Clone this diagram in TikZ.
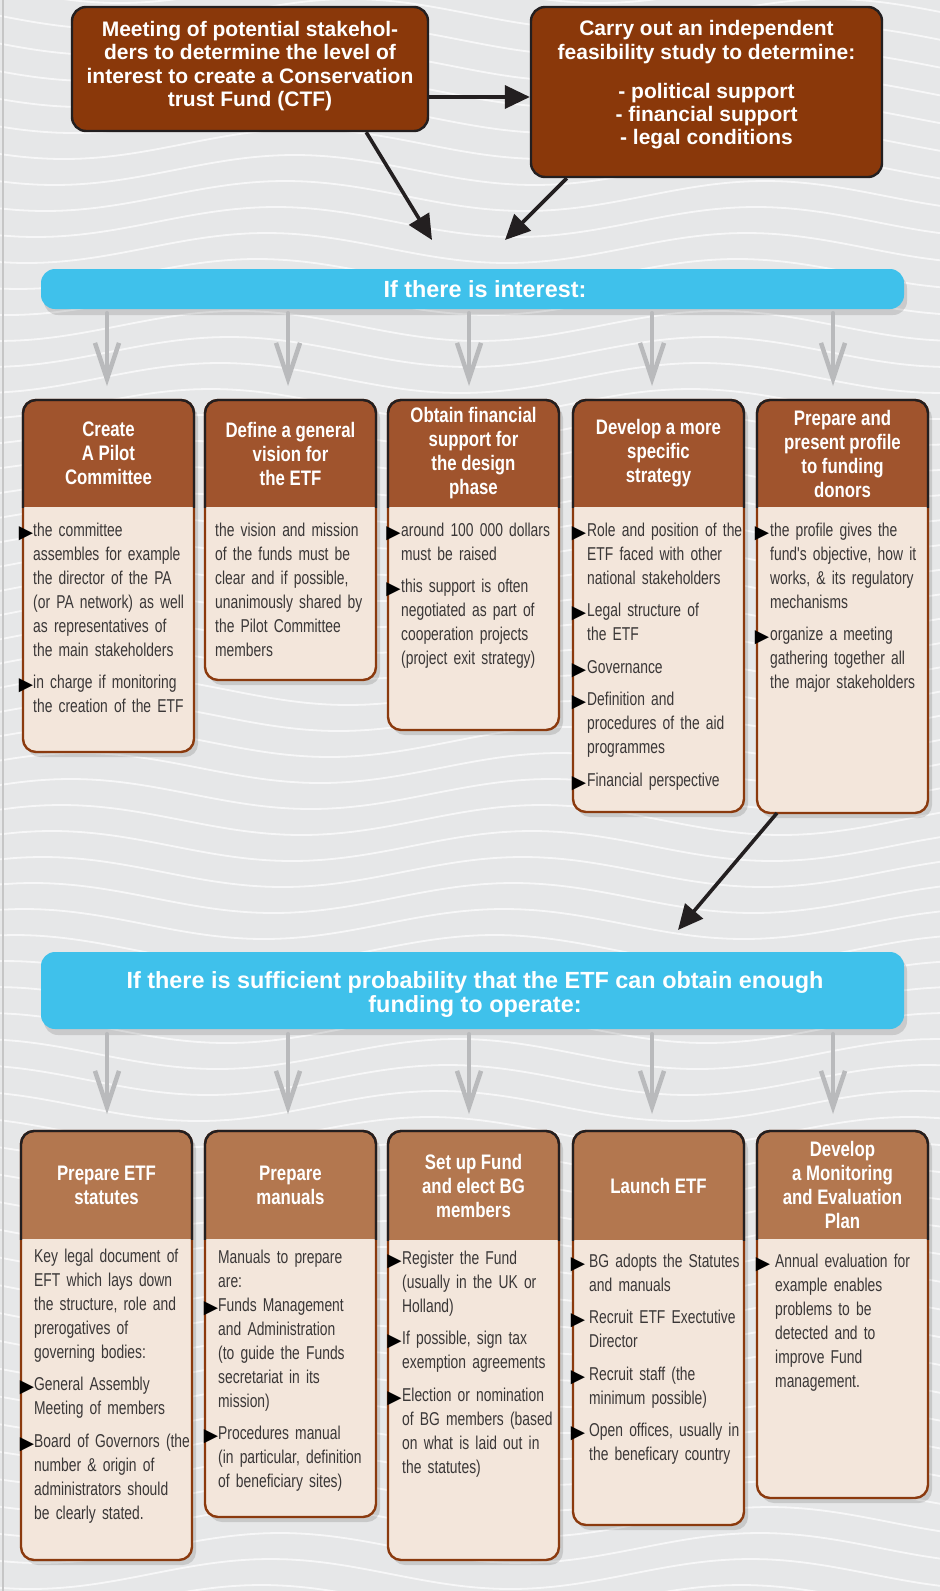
\documentclass[tikz,border=0pt]{standalone}
\usepackage{fontspec}
\setmainfont{Liberation Sans}
\newfontfamily\bodyf[FakeStretch=0.745]{Liberation Sans}
\newfontfamily\headf[FakeStretch=0.8]{Liberation Sans}
\newfontfamily\symf{DejaVu Sans}
\usetikzlibrary{arrows.meta}
\definecolor{bgc}{HTML}{E6E7E8}
\definecolor{dark}{HTML}{231F20}
\definecolor{topc}{HTML}{8A380A}
\definecolor{headA}{HTML}{A0542D}
\definecolor{headB}{HTML}{B3774F}
\definecolor{bodyc}{HTML}{F3E6DB}
\definecolor{bordc}{HTML}{8B3A0E}
\definecolor{barc}{HTML}{3FC1EB}
\definecolor{garc}{HTML}{B9BABC}
\definecolor{textc}{HTML}{3A3737}
\newcommand\bul[1][0.5pt]{\leavevmode\llap{\raisebox{-1.8pt}{\symf\fontsize{18.5}{18.5}\selectfont\color{black}▶}\hspace{#1}}}
\newcommand\card[7]{%
  \fill[black,opacity=.13,rounded corners=13pt] ({#2+4},{#3+5}) rectangle ({#2+175},{#5+5});
  \begin{scope}
    \clip[rounded corners=13pt] (#2,#3) rectangle ({#2+171},#5);
    \fill[bodyc] (#2,#3) rectangle ({#2+171},#5);
    \fill[#6] (#2,#3) rectangle ({#2+171},#4);
  \end{scope}
  \draw[bordc,line width=2.4pt,rounded corners=13pt] (#2,#3) rectangle ({#2+171},#5);
  \begin{scope}
    \clip ({#2-5},{#3-5}) rectangle ({#2+176},#4);
    \draw[dark,line width=2.4pt,rounded corners=13pt] (#2,#3) rectangle ({#2+171},#5);
  \end{scope}
  \node[cardbox,minimum height={#5-#3}] (#1) at (#2,#3) {};
  \node[head] (#1h) at ({#2+85.5},{(#3+#4)/2}) {#7};
}
\begin{document}
\begin{tikzpicture}[x=1pt,y=-1pt,
  cardbox/.style={anchor=north west,minimum width=171pt,inner sep=0pt,outer sep=0pt,draw=none},
  head/.style={align=center,text=white,inner sep=0pt,font=\headf\bfseries\fontsize{21}{24}\selectfont},
  body/.style={anchor=north west,inner sep=0pt,text width=200pt,text=textc,
    font=\bodyf\fontsize{18.6}{24}\selectfont,
    execute at begin node={\raggedright\setlength\parskip{8.5pt}\setlength\parindent{0pt}\rule{0pt}{15pt}}},
  topbox/.style={fill=topc,draw=dark,line width=2.4pt,rounded corners=14pt,inner sep=0pt},
  toptext/.style={align=center,text=white,inner sep=0pt,font=\bfseries\fontsize{21}{23.3}\selectfont},
  bar/.style={fill=barc,rounded corners=14pt,inner sep=0pt,text=white,align=center,
    font=\bfseries\fontsize{23.4}{24}\selectfont},
  garr/.style={draw=garc,line width=4.5pt,line cap=round,
    -{Straight Barb[length=36pt,width=24pt,line width=4.5pt]}},
  blk/.style={draw=dark,line width=3.6pt,-{Triangle[length=25pt,width=23pt]}}]
\useasboundingbox (0,0) rectangle (940,1591);
% background
\fill[bgc] (0,0) rectangle (940,1591);
\begin{scope}
  \clip (0,0) rectangle (940,1591);
  \foreach \k in {0,...,63}{
    \draw[white,line width=1.8pt,opacity=.7] plot[domain=0:940,samples=50,smooth]
      (\x,{\k*26-12+15*sin(\x*0.75+\k*7)});
  }
\end{scope}
\draw[gray!45,line width=2pt] (2.5,0) -- (2.5,1591);

% top boxes
\node[topbox,minimum width=356pt,minimum height=124pt] (t1) at (250,69) {};
\node[toptext] (t1t) at (250,66) {Meeting of potential stakehol-\\ders to determine the level of\\interest to create a Conservation\\trust Fund (CTF)};
\node[topbox,minimum width=351pt,minimum height=170pt] (t2) at (706.5,92) {};
\node[toptext] (t2t) at (706.5,85) {Carry out an independent\\feasibility study to determine:\\[16pt]- political support\\- financial support\\- legal conditions};

\coordinate (h1) at (0,97);
\coordinate (m1) at (432,240);
\coordinate (m2) at (505,240);
\draw[blk] (t1.east |- h1) -- (t2.west |- h1);
\draw[blk] ([xshift=-63pt]t1.south east) -- (m1);
\draw[blk] ([xshift=37pt]t2.south west) -- (m2);

% bar 1
\fill[black,opacity=.12,rounded corners=14pt] (44,274) rectangle (907,315);
\node[bar,minimum width=863pt,minimum height=40pt] (bar1) at (472.5,289) {};
\node[bar,fill=none] (bar1t) at (485,289) {If there is interest:};

% top row cards
\card{c1}{23}{400}{507}{752}{headA}{Create\\A Pilot\\Committee}
\card{c2}{205}{400}{507}{680}{headA}{Define a general\\vision for\\the ETF}
\card{c3}{388}{400}{507}{730}{headA}{Obtain financial\\support for\\the design\\phase}
\card{c4}{573}{400}{507}{812}{headA}{Develop a more\\specific\\strategy}
\card{c5}{757}{400}{507}{813}{headA}{Prepare and\\present profile\\to funding\\donors}

\node[body] (c1b) at (33,521) {\bul[0pt]the committee\\assembles for example\\the director of the PA\\(or PA network) as well\\as representatives of\\the main stakeholders\par
\bul[0pt]in charge if monitoring\\the creation of the ETF};
\node[body] (c2b) at (215,521) {the vision and mission\\of the funds must be\\clear and if possible,\\unanimously shared by\\the Pilot Committee\\members};
\node[body] (c3b) at (401,521) {\bul around 100 000 dollars\\must be raised\par
\bul this support is often\\negotiated as part of\\cooperation projects\\(project exit strategy)};
\node[body] (c4b) at (587,521) {\bul[1pt]Role and position of the\\ETF faced with other\\national stakeholders\par
\bul[1pt]Legal structure of\\the ETF\par
\bul[1pt]Governance\par
\bul[1pt]Definition and\\procedures of the aid\\programmes\par
\bul[1pt]Financial perspective};
\node[body] (c5b) at (770,521) {\bul[1pt]the profile gives the\\fund's objective, how it\\works, \& its regulatory\\mechanisms\par
\bul[1pt]organize a meeting\\gathering together all\\the major stakeholders};

% gray arrows 1
\foreach \i/\gx in {1/107,2/288,3/469,4/652,5/833}{
  \coordinate (g\i) at (\gx,0);
}
\draw[garr,shorten <=4pt,shorten >=14pt] (bar1.south -| g1) -- (c1.north -| g1);
\draw[garr,shorten <=4pt,shorten >=14pt] (bar1.south -| g2) -- (c2.north -| g2);
\draw[garr,shorten <=4pt,shorten >=14pt] (bar1.south -| g3) -- (c3.north -| g3);
\draw[garr,shorten <=4pt,shorten >=14pt] (bar1.south -| g4) -- (c4.north -| g4);
\draw[garr,shorten <=4pt,shorten >=14pt] (bar1.south -| g5) -- (c5.north -| g5);

% arrow to bar 2
\coordinate (m3) at (678,930);
\draw[blk] ([xshift=20pt]c5.south west) -- (m3);

% bar 2
\fill[black,opacity=.12,rounded corners=14pt] (44,957) rectangle (907,1035);
\node[bar,minimum width=863pt,minimum height=77pt] (bar2) at (472.5,990.5) {};
\node[bar,fill=none] (bar2t) at (475,994) {If there is sufficient probability that the ETF can obtain enough\\funding to operate:};

% bottom row cards
\card{d1}{21}{1131}{1239}{1560}{headB}{Prepare ETF\\statutes}
\card{d2}{205}{1131}{1239}{1517}{headB}{Prepare\\manuals}
\card{d3}{388}{1131}{1240}{1560}{headB}{Set up Fund\\and elect BG\\members}
\card{d4}{573}{1131}{1240}{1525}{headB}{Launch ETF}
\card{d5}{757}{1131}{1239}{1498}{headB}{Develop\\a Monitoring\\and Evaluation\\Plan}

\node[body] (d1b) at (34,1247) {Key legal document of\\EFT which lays down\\the structure, role and\\prerogatives of\\governing bodies:\par
\bul[0pt]General Assembly\\Meeting of members\par
\bul[0pt]Board of Governors (the\\number \& origin of\\administrators should\\be clearly stated.};
\node[body] (d2b) at (218,1248) {Manuals to prepare\\are:\\\bul[0pt]Funds Management\\and Administration\\(to guide the Funds\\secretariat in its\\mission)\par
\bul[0pt]Procedures manual\\(in particular, definition\\of beneficiary sites)};
\node[body] (d3b) at (402,1249) {\bul Register the Fund\\(usually in the UK or\\Holland)\par
\bul If possible, sign tax\\exemption agreements\par
\bul Election or nomination\\of BG members (based\\on what is laid out in\\the statutes)};
\node[body] (d4b) at (589,1252) {\bul[4pt]BG adopts the Statutes\\and manuals\par
\bul[4pt]Recruit ETF Exectutive\\Director\par
\bul[4pt]Recruit staff (the\\minimum possible)\par
\bul[4pt]Open offices, usually in\\the beneficary country};
\node[body] (d5b) at (775,1252) {\bul[5pt]Annual evaluation for\\example enables\\problems to be\\detected and to\\improve Fund\\management.};

% gray arrows 2
\draw[garr,shorten <=5pt,shorten >=17pt] (bar2.south -| g1) -- (d1.north -| g1);
\draw[garr,shorten <=5pt,shorten >=17pt] (bar2.south -| g2) -- (d2.north -| g2);
\draw[garr,shorten <=5pt,shorten >=17pt] (bar2.south -| g3) -- (d3.north -| g3);
\draw[garr,shorten <=5pt,shorten >=17pt] (bar2.south -| g4) -- (d4.north -| g4);
\draw[garr,shorten <=5pt,shorten >=17pt] (bar2.south -| g5) -- (d5.north -| g5);
\end{tikzpicture}
\end{document}
